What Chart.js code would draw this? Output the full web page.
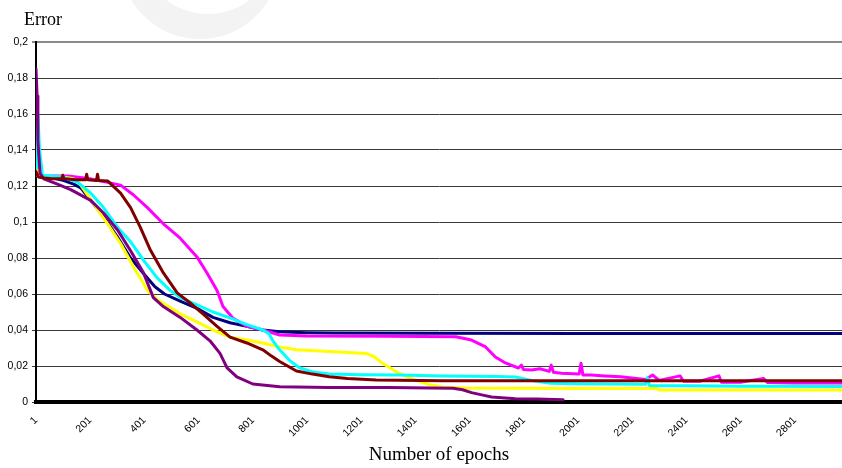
<!DOCTYPE html>
<html>
<head>
<meta charset="utf-8">
<script src="https://cdn.jsdelivr.net/npm/chart.js@4.4.1/dist/chart.umd.min.js"></script>
<style>
  html, body { margin: 0; padding: 0; background: #ffffff; }
  #wrap { width: 842px; height: 468px; position: relative; }
</style>
</head>
<body>
<div id="wrap"><canvas id="c" width="842" height="468"></canvas></div>
<script>
// ---- data ----
const xTickLabels = ['1','201','401','601','801','1001','1201','1401','1601','1801','2001','2201','2401','2601','2801'];
const yTickLabels = ['0','0,02','0,04','0,06','0,08','0,1','0,12','0,14','0,16','0,18','0,2'];

const seriesNames = ['Series 1','Series 2','Series 3','Series 4','Series 5','Series 6'];

const navyEpochs = [1, 4, 10, 20, 60, 104, 140, 166, 203, 250, 300, 350, 400, 440, 475, 533, 595, 654, 717, 779, 838, 900, 1000, 1100, 1500, 2000, 2500, 2975];
const navyErrors = [0.128, 0.145, 0.127, 0.125, 0.1245, 0.123, 0.121, 0.119, 0.112, 0.103, 0.092, 0.080, 0.071, 0.064, 0.060, 0.056, 0.052, 0.047, 0.044, 0.042, 0.040, 0.039, 0.0385, 0.0383, 0.0382, 0.0381, 0.038, 0.038];

const magentaEpochs = [1, 20, 60, 120, 200, 265, 313, 361, 412, 471, 533, 595, 632, 669, 691, 727, 779, 838, 900, 1000, 1300, 1550, 1608, 1660, 1696, 1733, 1781, 1792, 1800, 1830, 1860, 1895, 1902, 1910, 1940, 2005, 2012, 2019, 2049, 2100, 2158, 2250, 2276, 2300, 2378, 2390, 2450, 2521, 2530, 2600, 2686, 2700, 2800, 2975];
const magentaErrors = [0.126, 0.125, 0.1255, 0.1255, 0.124, 0.122, 0.1205, 0.115, 0.108, 0.099, 0.091, 0.0806, 0.0717, 0.062, 0.053, 0.0467, 0.042, 0.040, 0.0372, 0.0367, 0.0365, 0.0363, 0.0344, 0.0306, 0.025, 0.0217, 0.0189, 0.0205, 0.018, 0.0178, 0.0185, 0.017, 0.0205, 0.0165, 0.016, 0.0155, 0.0215, 0.015, 0.015, 0.0145, 0.014, 0.0125, 0.015, 0.012, 0.0145, 0.0115, 0.0115, 0.0145, 0.011, 0.011, 0.013, 0.0108, 0.0105, 0.0105];

const yellowEpochs = [1, 3, 8, 20, 60, 100, 140, 166, 214, 265, 313, 361, 397, 412, 448, 490, 533, 595, 654, 717, 779, 838, 900, 962, 1083, 1219, 1250, 1278, 1340, 1403, 1450, 1498, 1586, 1990, 2290, 2300, 2975];
const yellowErrors = [0.13, 0.136, 0.127, 0.125, 0.125, 0.125, 0.124, 0.1205, 0.110, 0.099, 0.088, 0.075, 0.066, 0.062, 0.057, 0.053, 0.049, 0.0445, 0.040, 0.036, 0.0344, 0.0328, 0.0306, 0.029, 0.028, 0.027, 0.025, 0.0217, 0.016, 0.012, 0.0098, 0.0083, 0.0078, 0.0075, 0.0075, 0.0067, 0.0067];

const cyanEpochs = [1, 4, 8, 14, 25, 60, 100, 155, 203, 250, 302, 350, 397, 448, 496, 533, 595, 654, 717, 779, 838, 860, 875, 900, 937, 973, 1021, 1083, 1200, 1340, 1500, 1700, 1770, 1830, 1900, 2000, 2250, 2257, 2264, 2400, 2600, 2975];
const cyanErrors = [0.13, 0.15, 0.16, 0.14, 0.126, 0.1255, 0.125, 0.122, 0.116, 0.108, 0.097, 0.089, 0.079, 0.069, 0.062, 0.058, 0.054, 0.050, 0.0467, 0.043, 0.040, 0.038, 0.034, 0.029, 0.023, 0.019, 0.0167, 0.0155, 0.0152, 0.015, 0.0145, 0.0142, 0.0139, 0.012, 0.0104, 0.0102, 0.0098, 0.0135, 0.0092, 0.009, 0.0088, 0.0086];

const purpleEpochs = [1, 5, 8, 16, 30, 80, 129, 203, 250, 302, 350, 397, 434, 471, 533, 595, 643, 680, 706, 742, 801, 900, 1083, 1300, 1540, 1575, 1608, 1650, 1682, 1770, 1850, 1946];
const purpleErrors = [0.185, 0.17, 0.145, 0.127, 0.124, 0.121, 0.118, 0.112, 0.105, 0.0956, 0.084, 0.072, 0.058, 0.053, 0.047, 0.040, 0.034, 0.027, 0.019, 0.014, 0.010, 0.0085, 0.008, 0.008, 0.0076, 0.0068, 0.0052, 0.0038, 0.0028, 0.0018, 0.0016, 0.0012];

const darkredEpochs = [1, 10, 30, 60, 96, 100, 104, 150, 184, 188, 192, 224, 228, 232, 265, 313, 350, 386, 423, 471, 522, 570, 617, 669, 717, 779, 838, 870, 900, 962, 1021, 1083, 1150, 1256, 1500, 2000, 2500, 2975];
const darkredErrors = [0.128, 0.125, 0.1245, 0.124, 0.124, 0.126, 0.124, 0.1235, 0.1235, 0.1265, 0.1235, 0.123, 0.1265, 0.123, 0.1228, 0.116, 0.108, 0.097, 0.0844, 0.0717, 0.0606, 0.055, 0.049, 0.042, 0.036, 0.0328, 0.029, 0.0255, 0.0225, 0.0172, 0.0155, 0.014, 0.013, 0.0122, 0.0118, 0.0118, 0.0118, 0.0118];

const xTitle = 'Number of epochs';
const yTitle = 'Error';

// ---- build chart ----
function pts(ex, ey) { return ex.map((e, i) => ({ x: e, y: ey[i] })); }

const seriesDefs = [
  { name: seriesNames[0], e: navyEpochs,    v: navyErrors,    color: '#000080', order: 5 },
  { name: seriesNames[1], e: magentaEpochs, v: magentaErrors, color: '#FF00FF', order: 4 },
  { name: seriesNames[2], e: yellowEpochs,  v: yellowErrors,  color: '#FFFF00', order: 3 },
  { name: seriesNames[3], e: cyanEpochs,    v: cyanErrors,    color: '#00FFFF', order: 2 },
  { name: seriesNames[4], e: purpleEpochs,  v: purpleErrors,  color: '#800080', order: 1 },
  { name: seriesNames[5], e: darkredEpochs, v: darkredErrors, color: '#800000', order: 0 }
];

const datasets = seriesDefs.map(s => ({
  label: s.name,
  data: pts(s.e, s.v),
  borderColor: s.color,
  backgroundColor: s.color,
  borderWidth: 3,
  borderJoinStyle: 'round',
  borderCapStyle: 'round',
  pointRadius: 0,
  tension: 0,
  fill: false,
  order: s.order
}));

const xTickValues = xTickLabels.map(t => parseInt(t, 10));

const decoPlugin = {
  id: 'deco',
  beforeDraw(chart) {
    const ctx = chart.ctx;
    ctx.save();
    ctx.fillStyle = '#f3f3f3';
    ctx.beginPath(); ctx.arc(200, -41, 80, 0, Math.PI * 2); ctx.fill();
    ctx.fillStyle = '#ffffff';
    ctx.beginPath(); ctx.arc(208, -54.5, 68.5, 0, Math.PI * 2); ctx.fill();
    ctx.restore();
  },
  afterDraw(chart) {
    const ctx = chart.ctx;
    ctx.save();
    ctx.fillStyle = '#000000';
    ctx.font = '18px "Liberation Serif", "Times New Roman", serif';
    ctx.textBaseline = 'alphabetic';
    ctx.textAlign = 'left';
    ctx.fillText(yTitle, 24, 25);
    ctx.restore();
  }
};

new Chart(document.getElementById('c'), {
  type: 'line',
  data: { datasets },
  options: {
    responsive: false,
    animation: false,
    devicePixelRatio: 1,
    layout: { padding: { top: 42, right: 0, left: 0, bottom: 0 } },
    plugins: {
      legend: { display: false },
      tooltip: { enabled: false },
      title: { display: false }
    },
    scales: {
      x: {
        type: 'linear',
        min: 1,
        max: 2975,
        grid: { display: false },
        border: { display: true, color: '#000000', width: 4 },
        afterBuildTicks(scale) { scale.ticks = xTickValues.map(v => ({ value: v })); },
        afterFit(scale) { scale.height = 66; },
        ticks: {
          autoSkip: false,
          minRotation: 45,
          maxRotation: 45,
          padding: 4,
          color: '#000000',
          font: { family: '"Liberation Sans", Arial, sans-serif', size: 10.5 },
          callback: (v) => { const i = xTickValues.indexOf(v); return i >= 0 ? xTickLabels[i] : ''; }
        },
        title: {
          display: true,
          text: xTitle,
          color: '#000000',
          font: { family: '"Liberation Serif", "Times New Roman", serif', size: 19 },
          padding: { top: 0, bottom: 2 }
        }
      },
      y: {
        min: 0,
        max: 0.2,
        afterBuildTicks(scale) { scale.ticks = yTickLabels.map((t, i) => ({ value: i * 0.02 })); },
        afterFit(scale) { scale.width = 36; },
        border: { display: true, color: '#000000', width: 2 },
        grid: {
          color: (c) => (c.index === yTickLabels.length - 1 ? '#8a8a8a' : '#3a3a3a'),
          lineWidth: (c) => (c.index === yTickLabels.length - 1 ? 2 : 1),
          drawTicks: true,
          tickLength: 4
        },
        ticks: {
          padding: 4,
          color: '#000000',
          font: { family: '"Liberation Sans", Arial, sans-serif', size: 10.5 },
          callback: (v, i) => yTickLabels[i]
        }
      }
    }
  },
  plugins: [decoPlugin]
});
</script>
</body>
</html>
